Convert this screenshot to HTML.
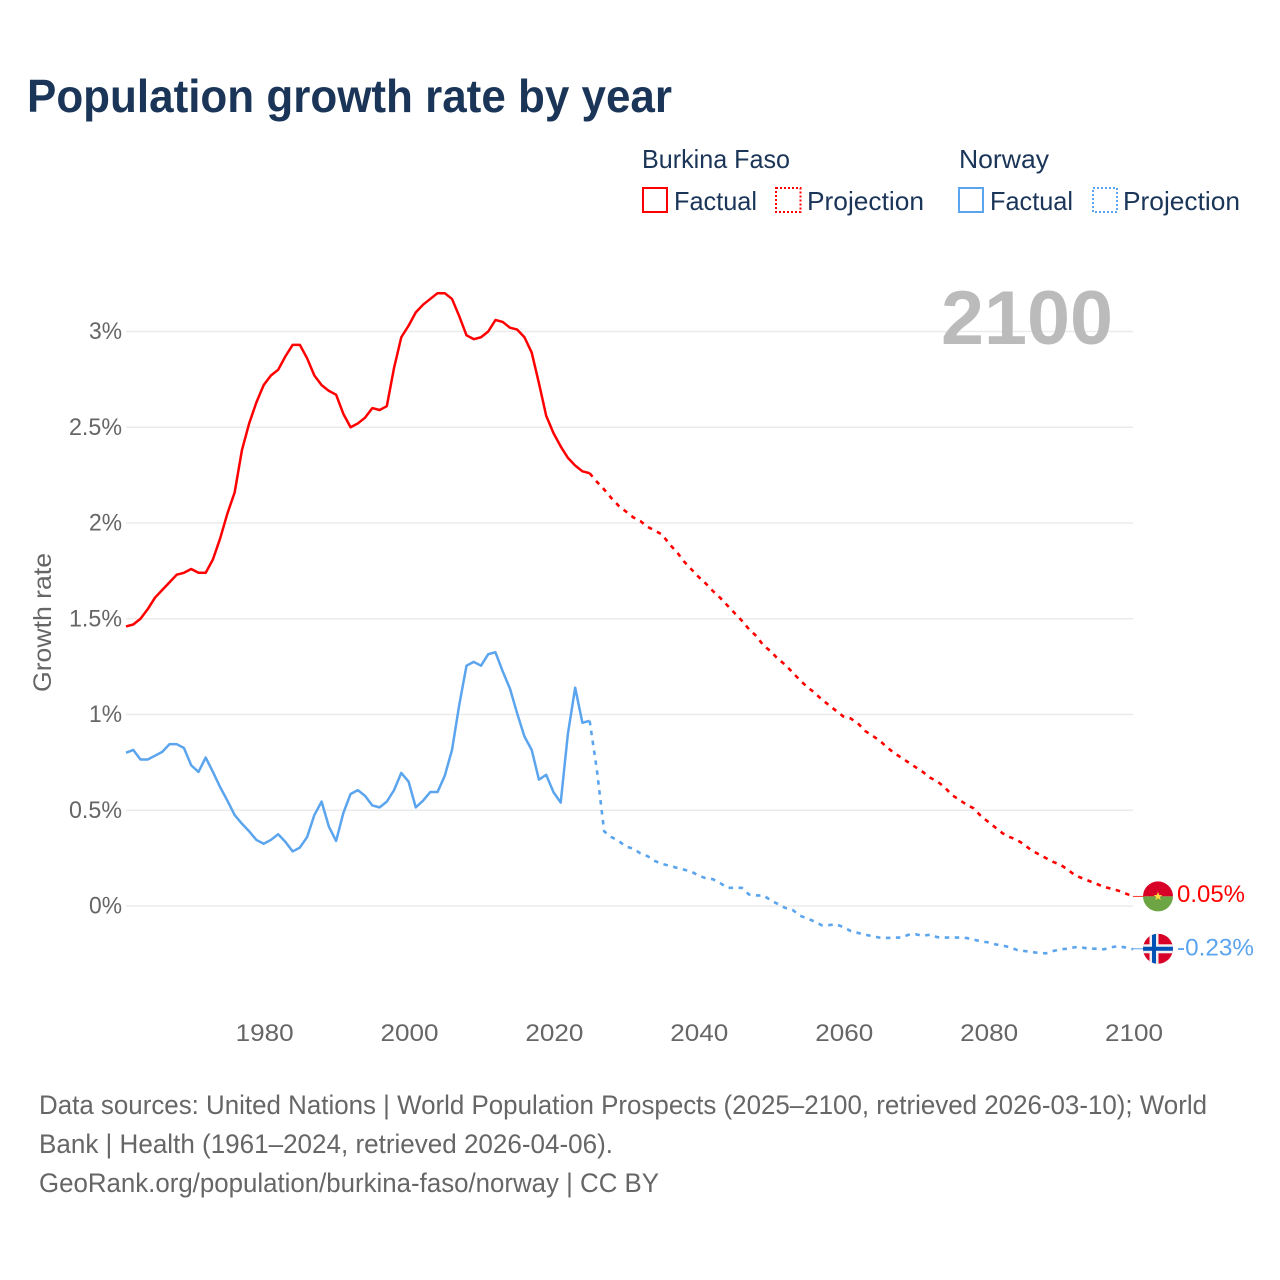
<!DOCTYPE html>
<html lang="en">
<head>
<meta charset="utf-8">
<title>Population growth rate by year</title>
<style>
html,body{margin:0;padding:0;background:#fff;width:1280px;height:1280px;overflow:hidden}
svg{display:block}
text{font-family:"Liberation Sans",sans-serif}
</style>
</head>
<body>
<svg id="chart" xmlns="http://www.w3.org/2000/svg" width="1280" height="1280" viewBox="0 0 1280 1280">
  <defs><clipPath id="flag-clip"><circle r="15"/></clipPath></defs>
  <text x="27" y="112" font-size="46" font-weight="700" fill="#1a3557" textLength="645" lengthAdjust="spacingAndGlyphs">Population growth rate by year</text>

  <g fill="#1a3557" font-size="26">
    <text x="642" y="168" textLength="148" lengthAdjust="spacingAndGlyphs">Burkina Faso</text>
    <text x="959" y="168" textLength="90" lengthAdjust="spacingAndGlyphs">Norway</text>
    <rect x="643" y="188" width="24" height="24" fill="none" stroke="#ff0000" stroke-width="2"/>
    <text x="674" y="210" textLength="83" lengthAdjust="spacingAndGlyphs">Factual</text>
    <rect x="776" y="188" width="24.5" height="24" fill="none" stroke="#ff0000" stroke-width="2" stroke-dasharray="2,2"/>
    <text x="807" y="210" textLength="117" lengthAdjust="spacingAndGlyphs">Projection</text>
    <rect x="959" y="188" width="24" height="24" fill="none" stroke="#5ba4ee" stroke-width="2"/>
    <text x="990" y="210" textLength="83" lengthAdjust="spacingAndGlyphs">Factual</text>
    <rect x="1093" y="188" width="24" height="24" fill="none" stroke="#5ba4ee" stroke-width="2" stroke-dasharray="2,2"/>
    <text x="1123" y="210" textLength="117" lengthAdjust="spacingAndGlyphs">Projection</text>
  </g>

  <g id="grid"></g>
  <g id="yticks" font-size="24" fill="#666"></g>
  <g id="xticks" font-size="24" fill="#666"></g>
  <text transform="translate(51,692) rotate(-90)" font-size="25" fill="#666" textLength="139" lengthAdjust="spacingAndGlyphs">Growth rate</text>
  <text x="941" y="344" font-size="76" font-weight="700" fill="#bbbbbb" textLength="172" lengthAdjust="spacingAndGlyphs">2100</text>
  <g id="series" fill="none"></g>
  <g id="ends"></g>

  <g font-size="27" fill="#666">
    <text x="39" y="1114" textLength="1168" lengthAdjust="spacingAndGlyphs">Data sources: United Nations | World Population Prospects (2025–2100, retrieved 2026-03-10); World</text>
    <text x="39" y="1153" textLength="574" lengthAdjust="spacingAndGlyphs">Bank | Health (1961–2024, retrieved 2026-04-06).</text>
    <text x="39" y="1192" textLength="620" lengthAdjust="spacingAndGlyphs">GeoRank.org/population/burkina-faso/norway | CC BY</text>
  </g>
</svg>
<script>
const factualStartYear = 1961;
const projectionStartYear = 2025;
const burkinaFactual = [1.46,1.47,1.50,1.55,1.61,1.65,1.69,1.73,1.74,1.76,1.74,1.74,1.81,1.92,2.05,2.16,2.38,2.52,2.63,2.72,2.77,2.80,2.87,2.93,2.93,2.86,2.77,2.72,2.69,2.67,2.57,2.50,2.52,2.55,2.60,2.59,2.61,2.81,2.97,3.03,3.10,3.14,3.17,3.20,3.20,3.17,3.08,2.98,2.96,2.97,3.00,3.06,3.05,3.02,3.01,2.97,2.89,2.73,2.56,2.47,2.40,2.34,2.30,2.27,2.26];
const burkinaProjection = [2.26,2.215,2.175,2.13,2.09,2.06,2.03,2.01,1.98,1.96,1.94,1.89,1.85,1.80,1.76,1.72,1.685,1.645,1.61,1.57,1.53,1.49,1.445,1.41,1.36,1.33,1.29,1.26,1.22,1.18,1.145,1.115,1.08,1.05,1.02,0.99,0.98,0.955,0.915,0.89,0.865,0.83,0.80,0.775,0.75,0.725,0.70,0.67,0.65,0.62,0.58,0.555,0.53,0.51,0.47,0.44,0.41,0.38,0.36,0.345,0.32,0.29,0.27,0.25,0.23,0.215,0.19,0.16,0.145,0.13,0.115,0.10,0.09,0.08,0.065,0.05];
const norwayFactual = [0.80,0.815,0.765,0.765,0.785,0.805,0.845,0.845,0.825,0.735,0.70,0.775,0.70,0.62,0.55,0.475,0.43,0.39,0.345,0.325,0.345,0.375,0.335,0.285,0.305,0.36,0.475,0.545,0.415,0.34,0.485,0.585,0.605,0.575,0.525,0.515,0.545,0.605,0.695,0.65,0.515,0.55,0.595,0.595,0.68,0.815,1.05,1.255,1.275,1.255,1.315,1.325,1.225,1.135,1.005,0.885,0.815,0.66,0.685,0.595,0.54,0.90,1.14,0.957,0.967];
const norwayProjection = [0.967,0.71,0.39,0.36,0.34,0.31,0.30,0.275,0.26,0.235,0.22,0.21,0.20,0.19,0.18,0.16,0.145,0.14,0.12,0.095,0.095,0.095,0.06,0.055,0.055,0.03,0.01,-0.01,-0.02,-0.05,-0.065,-0.08,-0.10,-0.10,-0.095,-0.11,-0.13,-0.14,-0.15,-0.157,-0.165,-0.167,-0.165,-0.165,-0.15,-0.148,-0.155,-0.15,-0.163,-0.165,-0.165,-0.165,-0.167,-0.175,-0.185,-0.19,-0.20,-0.207,-0.215,-0.23,-0.235,-0.24,-0.245,-0.247,-0.235,-0.226,-0.223,-0.215,-0.217,-0.223,-0.223,-0.226,-0.215,-0.21,-0.217,-0.226];
const yTickValues = [0,0.5,1,1.5,2,2.5,3];
const yTickLabels = ["0%","0.5%","1%","1.5%","2%","2.5%","3%"];
const xTickYears = [1980,2000,2020,2040,2060,2080,2100];
const endLabels = ["0.05%","-0.23%"];

function xScale(year){ return 126 + (year - 1961) * (1007 / 139); }
function yScale(v){ return 906 - v * 191.5; }

const NS = "http://www.w3.org/2000/svg";
function make(tag, parent, attrs){
  const el = document.createElementNS(NS, tag);
  for (const k in attrs) el.setAttribute(k, attrs[k]);
  parent.appendChild(el);
  return el;
}
function linePath(values, startYear){
  return values.map((v,i)=>(i?"L":"M")+xScale(startYear+i).toFixed(2)+" "+yScale(v).toFixed(2)).join(" ");
}

const gridG = document.getElementById("grid");
const yG = document.getElementById("yticks");
yTickValues.forEach((v,i)=>{
  const g = make("line", gridG, {x1:126,x2:1133,y1:yScale(v),y2:yScale(v),stroke:"#ebebeb","stroke-width":1.5});
  
  
  const t = make("text", yG, {x:122,y:yScale(v)+7.5,"text-anchor":"end",textLength:yTickLabels[i].length>2?53:33,lengthAdjust:"spacingAndGlyphs"});
  t.textContent = yTickLabels[i];
  
  
});

const xG = document.getElementById("xticks");
xTickYears.forEach(y=>{
  const t = make("text", xG, {x:xScale(y)+1,y:1041,"text-anchor":"middle",textLength:58,lengthAdjust:"spacingAndGlyphs"});
  t.textContent = String(y);
  
  
});

const sG = document.getElementById("series");
const burkinaF = make("path", sG, {d:linePath(burkinaFactual,factualStartYear),stroke:"#ff0000","stroke-width":2.5,"stroke-linejoin":"round"});


const burkinaP = make("path", sG, {d:linePath(burkinaProjection,projectionStartYear),stroke:"#ff0000","stroke-width":2.6,"stroke-dasharray":"4.5,5.5"});


const norwayF = make("path", sG, {d:linePath(norwayFactual,factualStartYear),stroke:"#5ba4ee","stroke-width":2.5,"stroke-linejoin":"round"});


const norwayP = make("path", sG, {d:linePath(norwayProjection,projectionStartYear),stroke:"#5ba4ee","stroke-width":2.6,"stroke-dasharray":"4.5,5.5"});



const endG = document.getElementById("ends");
const bLast = burkinaProjection[burkinaProjection.length-1];
const nLast = norwayProjection[norwayProjection.length-1];
const bY = yScale(bLast), nY = yScale(nLast) - 0.5;
const xEnd = xScale(2100);
const c1 = make("line", endG, {x1:xEnd,x2:xEnd+12,y1:bY,y2:bY,stroke:"#ff0000","stroke-width":1,opacity:0.8});


const c2 = make("line", endG, {x1:xEnd,x2:xEnd+12,y1:nY,y2:nY,stroke:"#5ba4ee","stroke-width":1});



const cx = 1158, r = 15;
const bFlag = make("g", endG, {transform:"translate("+cx+","+bY+")"});


make("path", bFlag, {d:`M${-r} 0A${r} ${r} 0 0 1 ${r} 0Z`,fill:"#d80027"});
make("path", bFlag, {d:`M${-r} 0A${r} ${r} 0 0 0 ${r} 0Z`,fill:"#6da544"});
make("polygon", bFlag, {points:"0,-4.5 1.2,-1.4 4.4,-1.4 1.8,0.6 2.8,3.7 0,1.8 -2.8,3.7 -1.8,0.6 -4.4,-1.4 -1.2,-1.4",fill:"#ffda44"});

const nFlag = make("g", endG, {transform:"translate("+cx+","+nY+")","clip-path":"url(#flag-clip)"});


make("rect", nFlag, {x:-15,y:-15,width:30,height:30,fill:"#d80027"});
make("rect", nFlag, {x:-8.5,y:-15,width:9,height:30,fill:"#f0f0f0"});
make("rect", nFlag, {x:-15,y:-4.5,width:30,height:9,fill:"#f0f0f0"});
make("rect", nFlag, {x:-6,y:-15,width:4,height:30,fill:"#0052b4"});
make("rect", nFlag, {x:-15,y:-2,width:30,height:4,fill:"#0052b4"});

const bLabel = make("text", endG, {x:1177,y:bY+5.5,"font-size":24,fill:"#ff0000",textLength:68,lengthAdjust:"spacingAndGlyphs"});
bLabel.textContent = endLabels[0];


const nLabel = make("text", endG, {x:1177,y:nY+6.5,"font-size":24,fill:"#5ba4ee",textLength:77,lengthAdjust:"spacingAndGlyphs"});
nLabel.textContent = endLabels[1];


</script>
</body>
</html>
